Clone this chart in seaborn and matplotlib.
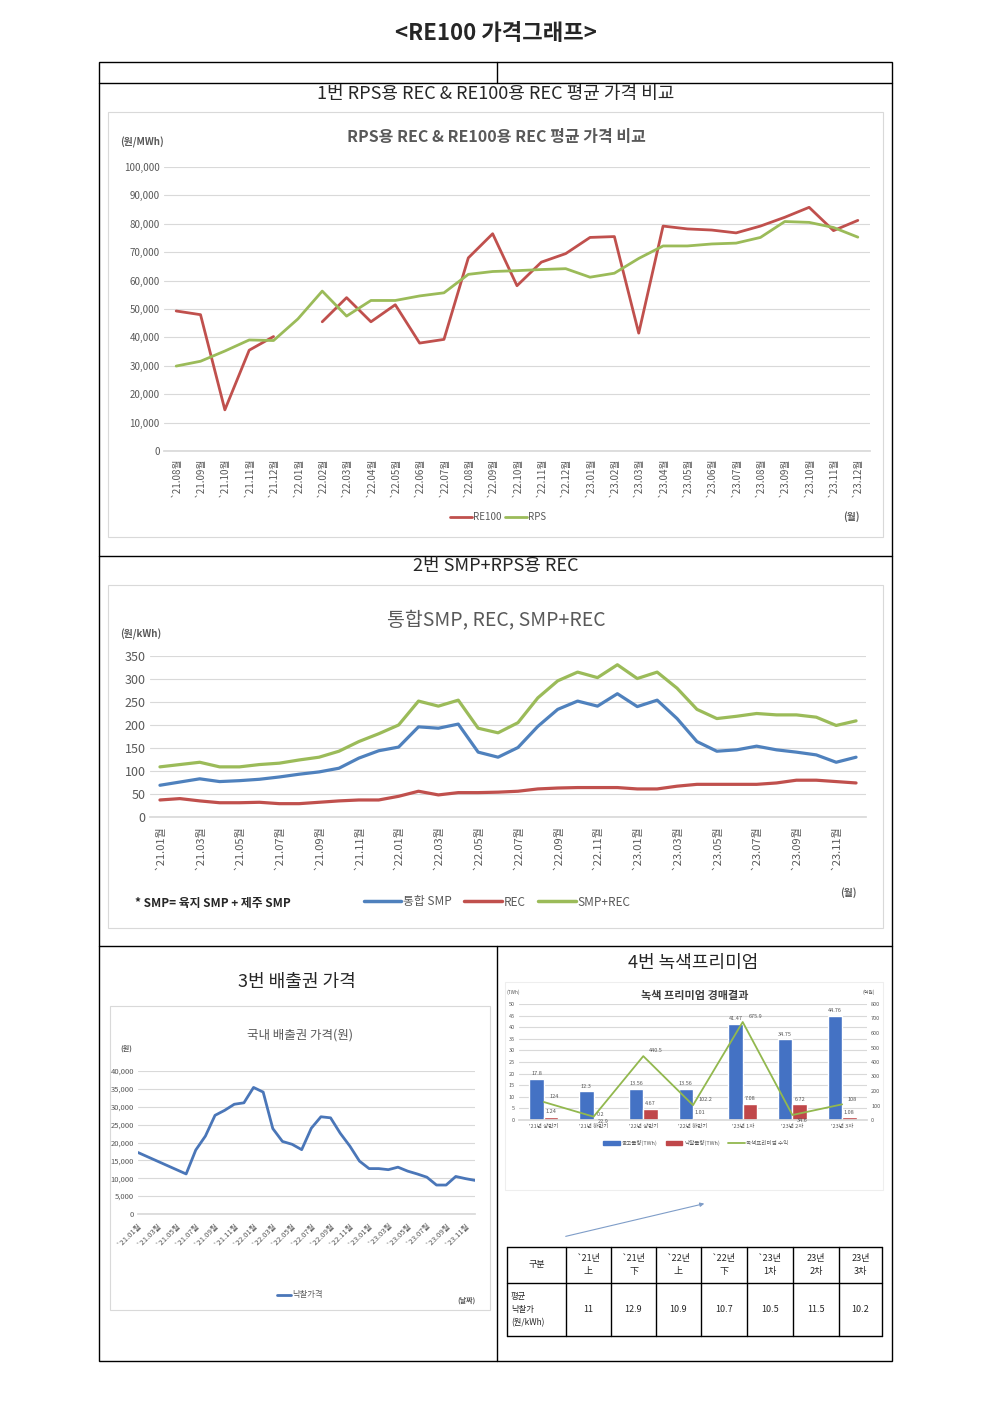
import numpy as np
import pandas as pd
import matplotlib
matplotlib.use("Agg")
import matplotlib.pyplot as plt
from matplotlib.lines import Line2D
from matplotlib.patches import Rectangle
from matplotlib.ticker import FuncFormatter
import seaborn as sns

sns.set_theme(style="white")
plt.rcParams['font.family'] = ['Noto Sans CJK KR', 'DejaVu Sans']
plt.rcParams['axes.unicode_minus'] = False

W, H = 992, 1403

## 1번: RPS용 REC & RE100용 REC (원/MWh), '21.08 ~ '23.12
months1 = [f"`{p.year % 100}.{p.month:02d}월" for p in pd.period_range("2021-08", "2023-12", freq="M")]
re100 = [49300, 48000, 14500, 35500, 40300, None, 45500, 54000, 45500, 51500,
         38000, 39300, 68000, 76500, 58200, 66500, 69500, 75200, 75500, 41500,
         79200, 78200, 77800, 76800, 79200, 82300, 85800, 77600, 81200]
rps = [29900, 31600, 35200, 39100, 38900, 46500, 56300, 47500, 53000, 53000,
       54600, 55700, 62200, 63200, 63500, 63900, 64200, 61200, 62600, 67800,
       72200, 72200, 72900, 73200, 75200, 80800, 80500, 78700, 75300]

## 2번: 통합 SMP, REC, SMP+REC (원/kWh), '21.01 ~ '23.12
months2 = [f"`{p.year % 100}.{p.month:02d}월" for p in pd.period_range("2021-01", "2023-12", freq="M")]
smp = [69, 76, 83, 77, 79, 82, 87, 93, 98, 106, 128, 144,
       152, 196, 193, 202, 141, 130, 151, 197, 234, 252, 241, 268,
       240, 254, 214, 164, 143, 146, 154, 146, 141, 135, 119, 130]
rec = [37, 40, 35, 31, 31, 32, 29, 29, 32, 35, 37, 37,
       45, 56, 48, 53, 53, 54, 56, 61, 63, 64, 64, 64,
       61, 61, 67, 71, 71, 71, 71, 74, 80, 80, 77, 74]
smp_rec = [109, 114, 119, 109, 109, 114, 117, 124, 130, 143, 164, 181,
           200, 252, 241, 254, 193, 183, 205, 259, 296, 315, 303, 331,
           301, 315, 280, 234, 214, 219, 225, 222, 222, 217, 199, 209]

## 3번: 국내 배출권 낙찰가격 (원)
months3 = months2
kau = [17200, None, None, None, None, 11200, 17900, 21800, 27600, 29000, 30700, 31100,
       35400, 34100, 23900, 20300, 19500, 18000, 24000, 27200, 26900, 22600, 19000, 14800,
       12700, 12700, 12400, 13100, 12000, 11200, 10300, 8100, 8100, 10500, 9900, 9400]

## 4번: 녹색프리미엄 경매결과
gp_rounds = ["'21년 상반기", "'21년 하반기", "'22년 상반기", "'22년 하반기", "'23년 1차", "'23년 2차", "'23년 3차"]
gp_offer = [17.8, 12.3, 13.56, 13.56, 41.47, 34.75, 44.76]
gp_award = [1.24, 0.2, 4.67, 1.01, 7.08, 6.72, 1.08]
gp_revenue = [124, 22.9, 440.5, 102.2, 675.9, 34.6, 108]

tbl_head = ["구분", "`21년\n上", "`21년\n下", "`22년\n上", "`22년\n下", "`23년\n1차", "23년\n2차", "23년\n3차"]
tbl_vals = ["11", "12.9", "10.9", "10.7", "10.5", "11.5", "10.2"]

RED, GREEN, BLUE = "#C0504D", "#9BBB59", "#4F81BD"
GREY, GRID = "#595959", "#D9D9D9"


def px_axes(fig, x0, y0, x1, y1):
    return fig.add_axes([x0 / W, 1 - y1 / H, (x1 - x0) / W, (y1 - y0) / H])


def ftext(x, y, s, **kw):
    fig.text(x / W, 1 - y / H, s, **kw)


def style_ax(ax, size):
    for sp in ax.spines.values():
        sp.set_visible(False)
    ax.spines['bottom'].set_visible(True)
    ax.spines['bottom'].set_color(GRID)
    ax.grid(axis='y', color=GRID, lw=0.8)
    ax.grid(axis='x', visible=False)
    ax.tick_params(axis='both', labelsize=size, colors=GREY, length=0, pad=3)
    ax.set_xlabel("")
    ax.set_ylabel("")
    ax.set_axisbelow(True)


comma = FuncFormatter(lambda v, p: f"{int(v):,}")

fig = plt.figure(figsize=(W / 100, H / 100), dpi=100)
fig.patch.set_facecolor("white")

# page overlay (pixel coords) for the document table, frames and notes
bg = fig.add_axes([0, 0, 1, 1])
bg.set_xlim(0, W)
bg.set_ylim(H, 0)
bg.axis("off")
bg.add_patch(Rectangle((99, 62), 793, 1299, fill=False, ec="black", lw=1))
for yy in [83, 556, 946]:
    bg.plot([99, 892], [yy, yy], color="black", lw=1)
bg.plot([497, 497], [62, 83], color="black", lw=1)
bg.plot([497, 497], [946, 1361], color="black", lw=1)
for (x0, y0, x1, y1, c) in [(108, 112, 883, 537, GRID), (108, 585, 883, 928, GRID),
                            (110, 1006, 490, 1310, GRID), (505, 982, 883, 1190, "#EEEEEE")]:
    bg.add_patch(Rectangle((x0, y0), x1 - x0, y1 - y0, fill=False, ec=c, lw=0.8))

ftext(496, 33, "<RE100 가격그래프>", ha="center", va="center", fontsize=16, fontweight="bold")
ftext(496, 94, "1번 RPS용 REC & RE100용 REC 평균 가격 비교", ha="center", va="center", fontsize=13)
ftext(496, 566, "2번 SMP+RPS용 REC", ha="center", va="center", fontsize=13)
ftext(297, 982, "3번 배출권 가격", ha="center", va="center", fontsize=13)
ftext(693, 963, "4번 녹색프리미엄", ha="center", va="center", fontsize=13)

# ---------------- chart 1
ax1 = px_axes(fig, 164, 167, 870, 451)
s_re = pd.Series(re100, dtype=float)
ok = s_re.notna()
runs = (ok != ok.shift()).cumsum()
for _, run in s_re[ok].groupby(runs[ok]):
    sns.lineplot(x=run.index, y=run.values, ax=ax1, color=RED, lw=2)
sns.lineplot(x=np.arange(len(rps)), y=rps, ax=ax1, color=GREEN, lw=2)
ax1.set_xlim(-0.5, len(months1) - 0.5)
ax1.set_ylim(0, 100000)
ax1.set_yticks(range(0, 100001, 10000))
ax1.yaxis.set_major_formatter(comma)
ax1.set_xticks(range(len(months1)))
ax1.set_xticklabels(months1, rotation=90)
style_ax(ax1, 7)
ax1.tick_params(axis='x', pad=5)
ftext(496, 137, "RPS용 REC & RE100용 REC 평균 가격 비교", ha="center", va="center",
      fontsize=11.5, fontweight="bold", color=GREY)
ftext(120, 142, "(원/MWh)", ha="left", va="center", fontsize=7, color=GREY, fontweight="bold")
ftext(851, 517, "(월)", ha="center", va="center", fontsize=7, color=GREY, fontweight="bold")
ax1.legend([Line2D([], [], color=RED, lw=2), Line2D([], [], color=GREEN, lw=2)], ["RE100", "RPS"],
           loc="center", bbox_to_anchor=(498 / W, 1 - 517 / H), bbox_transform=fig.transFigure,
           ncol=2, frameon=False, fontsize=7, handlelength=2.3, handletextpad=0.1,
           columnspacing=0.3, labelcolor=GREY)

# ---------------- chart 2
ax2 = px_axes(fig, 150, 656, 866, 817)
df2 = pd.DataFrame({"x": np.arange(len(months2)), "통합 SMP": smp, "REC": rec, "SMP+REC": smp_rec})
df2 = df2.melt(id_vars="x", var_name="series", value_name="v")
pal2 = {"통합 SMP": BLUE, "REC": RED, "SMP+REC": GREEN}
sns.lineplot(data=df2, x="x", y="v", hue="series", palette=pal2, ax=ax2, lw=2.3, legend=False)
ax2.set_xlim(-0.5, len(months2) - 0.5)
ax2.set_ylim(0, 350)
ax2.set_yticks(range(0, 351, 50))
ax2.set_xticks(range(0, len(months2), 2))
ax2.set_xticklabels(months2[::2], rotation=90)
style_ax(ax2, 9)
ax2.tick_params(axis='x', labelsize=8, pad=6)
ftext(496, 620, "통합SMP, REC, SMP+REC", ha="center", va="center", fontsize=14, color=GREY)
ftext(120, 634, "(원/kWh)", ha="left", va="center", fontsize=7, color=GREY, fontweight="bold")
ftext(848, 893, "(월)", ha="center", va="center", fontsize=7, color=GREY, fontweight="bold")
ftext(135, 903, "* SMP= 육지 SMP + 제주 SMP", ha="left", va="center", fontsize=8.5, fontweight="bold")
ax2.legend([Line2D([], [], color=c, lw=2.5) for c in pal2.values()], list(pal2.keys()),
           loc="center", bbox_to_anchor=(497 / W, 1 - 902 / H), bbox_transform=fig.transFigure,
           ncol=3, frameon=False, fontsize=8.5, handlelength=3.2, handletextpad=0.1,
           columnspacing=1.1, labelcolor=GREY)

# ---------------- chart 3
ax3 = px_axes(fig, 138, 1071, 475, 1214)
s3 = pd.Series(kau, dtype=float).dropna()
sns.lineplot(x=s3.index, y=s3.values, ax=ax3, color="#4A76B8", lw=2)
ax3.set_xlim(0, len(months3) - 1)
ax3.set_ylim(0, 40000)
ax3.set_yticks(range(0, 40001, 5000))
ax3.yaxis.set_major_formatter(comma)
ax3.set_xticks(range(0, len(months3), 2))
ax3.set_xticklabels(months3[::2], rotation=45, ha="right", rotation_mode="anchor")
style_ax(ax3, 5.5)
ax3.tick_params(axis='x', length=3, color=GRID, pad=2)
ftext(300, 1035, "국내 배출권 가격(원)", ha="center", va="center", fontsize=9, color=GREY)
ftext(126, 1048, "(원)", ha="center", va="center", fontsize=5, color=GREY, fontweight="bold")
ftext(466, 1300, "(날짜)", ha="center", va="center", fontsize=5, color=GREY, fontweight="bold")
ax3.legend([Line2D([], [], color="#4A76B8", lw=2)], ["낙찰가격"],
           loc="center", bbox_to_anchor=(300 / W, 1 - 1295 / H), bbox_transform=fig.transFigure,
           frameon=False, fontsize=6, handlelength=1.6, handletextpad=0.2, labelcolor=GREY)

# ---------------- chart 4
ax4 = px_axes(fig, 519, 1004, 867, 1120)
df4 = pd.DataFrame({"구분": gp_rounds * 2,
                    "항목": ["공고물량(TWh)"] * len(gp_rounds) + ["낙찰물량(TWh)"] * len(gp_rounds),
                    "값": gp_offer + gp_award})
sns.barplot(data=df4, x="구분", y="값", hue="항목", palette=["#4472C4", "#C0474A"],
            width=0.58, gap=0, saturation=1, ax=ax4, legend=False)
ax4.set_ylim(0, 50)
ax4.set_yticks(range(0, 51, 5))
ax4.set_xlim(-0.5, len(gp_rounds) - 0.5)
style_ax(ax4, 4)
ax4.bar_label(ax4.containers[0], labels=[f"{v:g}" for v in gp_offer], fontsize=4, color=GREY, padding=2)
ax4.bar_label(ax4.containers[1], labels=[f"{v:g}" for v in gp_award], fontsize=4, color=GREY, padding=2)
ax4b = ax4.twinx()
sns.lineplot(x=np.arange(len(gp_rounds)), y=gp_revenue, ax=ax4b, color="#92B84E", lw=1.3)
ax4b.set_ylim(0, 800)
ax4b.set_yticks(range(0, 801, 100))
for sp in ax4b.spines.values():
    sp.set_visible(False)
ax4b.grid(False)
ax4b.tick_params(axis='y', labelsize=4, colors=GREY, length=0, pad=3)
ax4b.set_ylabel("")
below = {1, 5}  # labels that sit under the line point
for i, v in enumerate(gp_revenue):
    if i in below:
        ax4b.annotate(f"{v:g}", (i, v), xytext=(3, -2), textcoords="offset points",
                      fontsize=4, color=GREY, va="top", ha="left")
    else:
        ax4b.annotate(f"{v:g}", (i, v), xytext=(4, 2), textcoords="offset points",
                      fontsize=4, color=GREY, va="bottom", ha="left")
ftext(695, 996, "녹색 프리미엄 경매결과", ha="center", va="center", fontsize=8, fontweight="bold", color="#404040")
ftext(513, 992, "(TWh)", ha="center", va="center", fontsize=3.5, color=GREY)
ftext(869, 992, "(억원)", ha="center", va="center", fontsize=3.5, color=GREY)
ax4.legend([Rectangle((0, 0), 1, 1, color="#4472C4"), Rectangle((0, 0), 1, 1, color="#C0474A"),
            Line2D([], [], color="#92B84E", lw=1.3)],
           ["공고물량(TWh)", "낙찰물량(TWh)", "녹색프리미엄 수익"],
           loc="center", bbox_to_anchor=(696 / W, 1 - 1143 / H), bbox_transform=fig.transFigure,
           ncol=3, frameon=False, fontsize=4, handlelength=3, handleheight=0.5,
           handletextpad=0.3, columnspacing=1.5, labelcolor=GREY)

# arrow and table
bg.annotate("", xy=(707, 1203), xytext=(563, 1237),
            arrowprops=dict(arrowstyle="-|>", color="#7F9DC8", lw=0.8, mutation_scale=6))
cols = [507, 566, 611, 656, 701, 747, 793, 839, 882]
rows = [1247, 1283, 1336]
for yy in rows:
    bg.plot([cols[0], cols[-1]], [yy, yy], color="black", lw=1)
for xx in cols:
    bg.plot([xx, xx], [rows[0], rows[-1]], color="black", lw=1)
for i, h in enumerate(tbl_head):
    bg.text((cols[i] + cols[i + 1]) / 2, (rows[0] + rows[1]) / 2, h, ha="center", va="center",
            fontsize=6.5, linespacing=1.5)
bg.text(cols[0] + 4, (rows[1] + rows[2]) / 2, "평균\n낙찰가\n(원/kWh)", ha="left", va="center",
        fontsize=6, linespacing=1.6)
for i, v in enumerate(tbl_vals):
    bg.text((cols[i + 1] + cols[i + 2]) / 2, (rows[1] + rows[2]) / 2, v, ha="center", va="center",
            fontsize=6.5)

fig.savefig("out.png", dpi=100, facecolor="white")
